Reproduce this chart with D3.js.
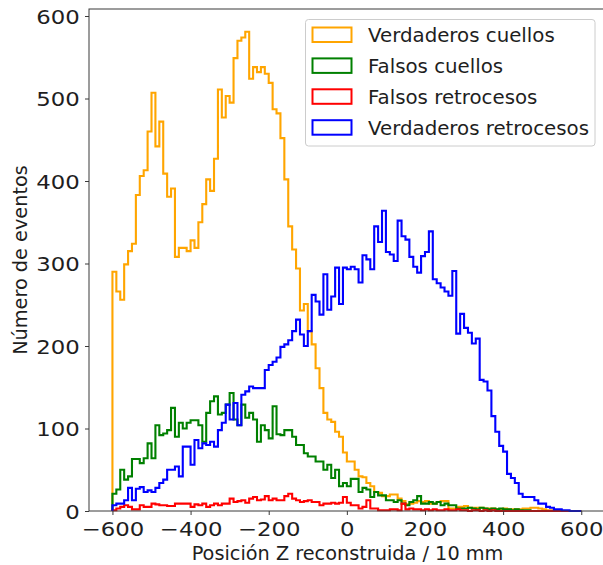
<!DOCTYPE html>
<html><head><meta charset="utf-8">
<script src="https://cdn.jsdelivr.net/npm/d3@7"></script>
<style>
body{margin:0;background:#fff}
svg{display:block}
text{font-family:"DejaVu Sans",sans-serif;fill:#1e1e1e}
</style>
</head><body>
<svg id="chart" width="603" height="565"></svg>
<script>
// ---- data ----
const binStart = -600;
const binWidth = 10;

const seriesNames = ["Verdaderos cuellos", "Falsos cuellos", "Falsos retrocesos", "Verdaderos retrocesos"];
const seriesColors = ["#FFA500", "#008000", "#FF0000", "#0000FF"];

const verdaderosCuellos = [
  290,266,256,299,315,324,383,406,413,460,507,442,472,409,381,391,308,319,319,315,
  328,319,350,372,402,388,427,511,477,503,495,549,570,574,581,524,538,532,538,530,
  519,487,482,452,402,345,317,294,243,251,218,202,173,149,119,111,108,96,90,71,
  60,60,50,42,41,34,30,23,22,18,18,20,20,15,12,8,9,10,12,11,
  12,9,9,11,12,12,3,3,5,5,6,4,4,4,4,3,3,3,2,2,
  3,2,2,2,2,3,3,4,4,3,2,1,1,0,0,0,0,0,0,0
];
const falsosCuellos = [
  21,26,50,38,42,63,63,58,64,82,64,104,92,94,98,125,90,107,100,107,
  110,110,104,84,119,133,139,117,119,129,143,111,104,129,113,119,111,84,104,98,
  88,127,93,92,98,98,90,80,80,70,66,66,60,60,50,56,40,50,30,34,
  30,39,39,23,28,26,17,23,19,19,13,13,11,13,9,7,11,13,18,9,
  9,11,9,11,7,9,7,7,3,3,3,4,3,2,4,3,2,3,2,3,
  2,2,1,2,1,1,1,0,0,0,0,0,0,0,0,0,0,0,0,0
];
const falsosRetrocesos = [
  1,3,5,7,5,2,2,7,5,5,9,8,7,7,6,6,9,9,9,9,
  5,8,7,9,5,7,9,7,9,9,15,11,12,13,10,15,17,13,14,18,
  13,15,13,13,18,21,15,13,11,12,13,11,11,7,9,9,10,9,10,17,
  10,7,7,3,5,13,3,3,1,1,1,2,2,1,9,2,3,2,2,1,
  2,1,2,1,1,2,1,1,2,1,1,0,1,1,0,1,0,1,0,0,
  0,0,0,0,0,0,0,0,0,0,0,0,0,0,0,0,0,0,0,0
];
const verdaderosRetrocesos = [
  7,9,9,13,28,13,27,29,23,25,23,28,34,38,50,50,54,42,78,78,
  56,86,76,82,80,84,78,98,107,129,111,131,104,141,145,151,149,149,149,171,
  177,181,186,199,202,207,218,232,214,200,218,262,254,238,287,244,260,295,251,295,
  293,296,293,277,310,305,293,345,326,364,314,311,303,352,333,329,308,296,289,309,
  314,339,281,276,271,266,261,291,215,239,222,216,203,209,159,157,146,115,96,79,
  72,45,40,34,21,17,17,17,13,9,9,5,4,2,2,1,1,0,0,0
];

const xTicks = [-600, -400, -200, 0, 200, 400, 600];
const yTicks = [0, 100, 200, 300, 400, 500, 600];
const xLabel = "Posición Z reconstruida / 10 mm";
const yLabel = "Número de eventos";

const series = [verdaderosCuellos, falsosCuellos, falsosRetrocesos, verdaderosRetrocesos];

// ---- layout ----
const svg = d3.select("#chart");
const plotL = 89, plotR = 604.7, plotT = 9, plotB = 511;
const x = d3.scaleLinear().domain([-660, 660]).range([plotL, plotR]);
const y = d3.scaleLinear().domain([0, 608.5]).range([plotB, plotT]);
const fmt = d => d < 0 ? "\u2212" + Math.abs(d) : String(d);

// histogram step outlines
const line = d3.line().x(d => x(d[0])).y(d => y(d[1]));
function stepPoints(vals) {
  const pts = [[binStart, 0]];
  vals.forEach((v, i) => {
    const x0 = binStart + i * binWidth;
    pts.push([x0, v], [x0 + binWidth, v]);
  });
  pts.push([binStart + vals.length * binWidth, 0]);
  return pts;
}
svg.append("g").selectAll("path").data(series).join("path")
  .attr("d", d => line(stepPoints(d)))
  .attr("fill", "none")
  .attr("stroke", (d, i) => seriesColors[i])
  .attr("stroke-width", 2.1)
  .attr("stroke-linejoin", "miter");

// frame
svg.append("rect").attr("x", plotL).attr("y", plotT)
  .attr("width", plotR - plotL).attr("height", plotB - plotT)
  .attr("fill", "none").attr("stroke", "#3a3a3a").attr("stroke-width", 1);

// axes
const gx = svg.append("g").attr("transform", `translate(0,${plotB})`)
  .call(d3.axisBottom(x).tickValues(xTicks).tickFormat(fmt).tickSize(4).tickSizeOuter(0));
const gy = svg.append("g").attr("transform", `translate(${plotL},0)`)
  .call(d3.axisLeft(y).tickValues(yTicks).tickFormat(fmt).tickSize(4).tickSizeOuter(0));
[gx, gy].forEach(g => {
  g.select(".domain").remove();
  g.selectAll(".tick line").attr("stroke", "#3a3a3a");
  g.selectAll(".tick text").attr("font-size", 20).attr("font-family", "DejaVu Sans").attr("fill", "#1e1e1e");
});
gx.selectAll(".tick text").attr("y", 25).attr("dy", null).attr("transform", "scale(1.14,1)");
gy.selectAll(".tick text").attr("x", -8.2).attr("dy", "0.36em").attr("transform", "scale(1.14,1)");

// axis labels
svg.append("text").attr("x", 347.5).attr("y", 560).attr("text-anchor", "middle")
  .attr("font-size", 19.3).text(xLabel);
svg.append("text").attr("transform", "translate(26.5,260) rotate(-90)").attr("text-anchor", "middle")
  .attr("font-size", 19.3).text(yLabel);

// legend
const lg = svg.append("g");
lg.append("rect").attr("x", 305.5).attr("y", 19.5).attr("width", 289.5).attr("height", 126.5)
  .attr("rx", 3).attr("fill", "white").attr("fill-opacity", 0.8)
  .attr("stroke", "#cccccc").attr("stroke-width", 1);
const items = lg.selectAll("g.item").data(seriesNames).join("g")
  .attr("transform", (d, i) => `translate(0,${27.5 + i * 30.9})`);
items.append("rect").attr("x", 312.5).attr("y", 0).attr("width", 39).attr("height", 14.5)
  .attr("fill", "none").attr("stroke", (d, i) => seriesColors[i]).attr("stroke-width", 2);
items.append("text").attr("x", 368).attr("y", 14.5).attr("font-size", 19.8).text(d => d);
</script>
</body></html>
